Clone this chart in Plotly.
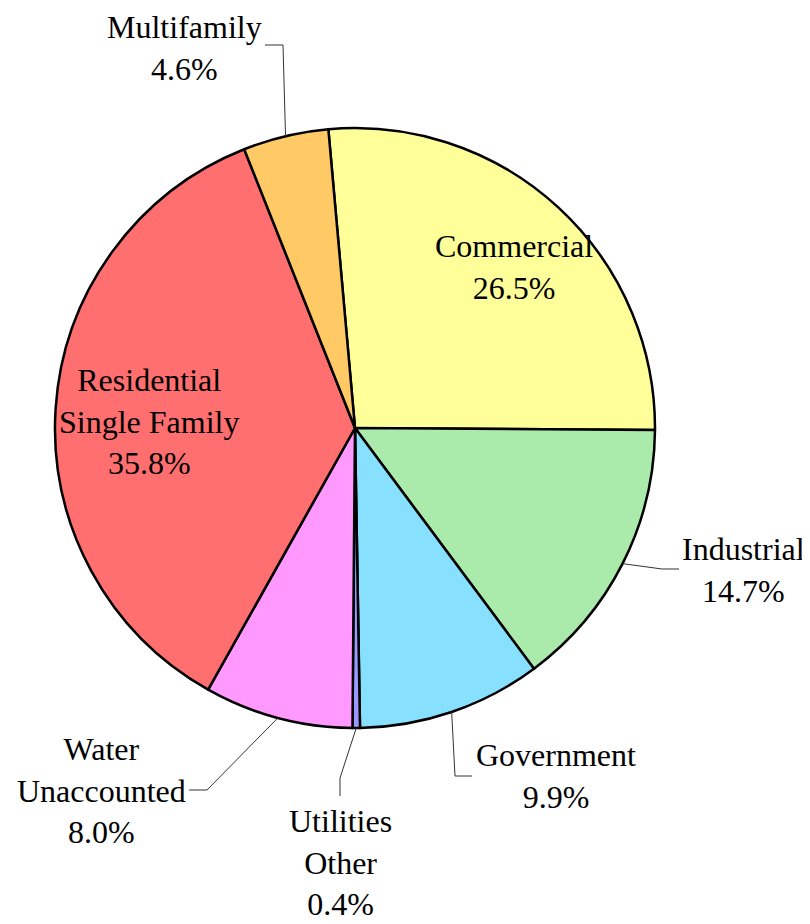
import math
import plotly.graph_objects as go

labels = ["Commercial", "Industrial", "Government", "Utilities<br>Other",
          "Water<br>Unaccounted", "Residential<br>Single Family", "Multifamily"]
values = [26.5, 14.7, 9.9, 0.4, 8.0, 35.8, 4.6]
colors = ["#FFFF99", "#AAEAAA", "#88E0FF", "#9999FF", "#FF99FF", "#FF6F6F", "#FFC966"]

W, H = 810, 924
OFF = 8  # page body margin offset in the browser
CX, CY, R = 355, 428, 300
ROT = -5.1  # start angle of first slice, degrees clockwise from 12 o'clock

# label centre positions (screen pixels) and leader-line elbow/end points
label_pos = {
    "Commercial": (514, 267),
    "Industrial": (743, 570),
    "Government": (556, 776),
    "Utilities<br>Other": (340, 862),
    "Water<br>Unaccounted": (101, 790),
    "Residential<br>Single Family": (149, 421),
    "Multifamily": (184, 48),
}
leaders = {
    "Multifamily": [(283, 45), (265, 45)],
    "Industrial": [(662, 569), (679, 569)],
    "Government": [(455, 776), (472, 776)],
    "Utilities<br>Other": [(340, 778), (340, 796)],
    "Water<br>Unaccounted": [(207, 790), (189, 790)],
}

def px(x):
    return (x - OFF) / W

def py(y):
    return 1 - (y - OFF) / H

fig = go.Figure(go.Pie(
    labels=labels, values=values, sort=False, direction="clockwise",
    rotation=ROT, textinfo="none", hoverinfo="label+percent",
    marker=dict(colors=colors, line=dict(color="black", width=2.5)),
    domain=dict(x=[px(CX - R), px(CX + R)], y=[py(CY + R), py(CY - R)]),
    showlegend=False,
))

total = sum(values)
annotations = []
shapes = []
cum = 0.0
for lab, v in zip(labels, values):
    mid = ROT + (cum + v / 2) / total * 360
    cum += v
    lx, ly = label_pos[lab]
    annotations.append(dict(
        x=px(lx), y=py(ly), xref="paper", yref="paper",
        text=f"{lab}<br>{v:.1f}%", showarrow=False,
        xanchor="center", yanchor="middle", align="center",
        borderpad=0, borderwidth=0,
        font=dict(family="Liberation Serif, Times New Roman, serif", size=32, color="black"),
    ))
    if lab in leaders:
        sx = CX + R * math.sin(math.radians(mid))
        sy = CY - R * math.cos(math.radians(mid))
        pts = [(sx, sy)] + leaders[lab]
        path = "M " + " L ".join(f"{px(a):.5f},{py(b):.5f}" for a, b in pts)
        shapes.append(dict(type="path", xref="paper", yref="paper", path=path,
                           line=dict(color="#333333", width=1)))

fig.update_layout(
    width=W, height=H, margin=dict(l=0, r=0, t=0, b=0),
    paper_bgcolor="white", plot_bgcolor="white",
    annotations=annotations, shapes=shapes,
)
fig.write_html("out.html")
